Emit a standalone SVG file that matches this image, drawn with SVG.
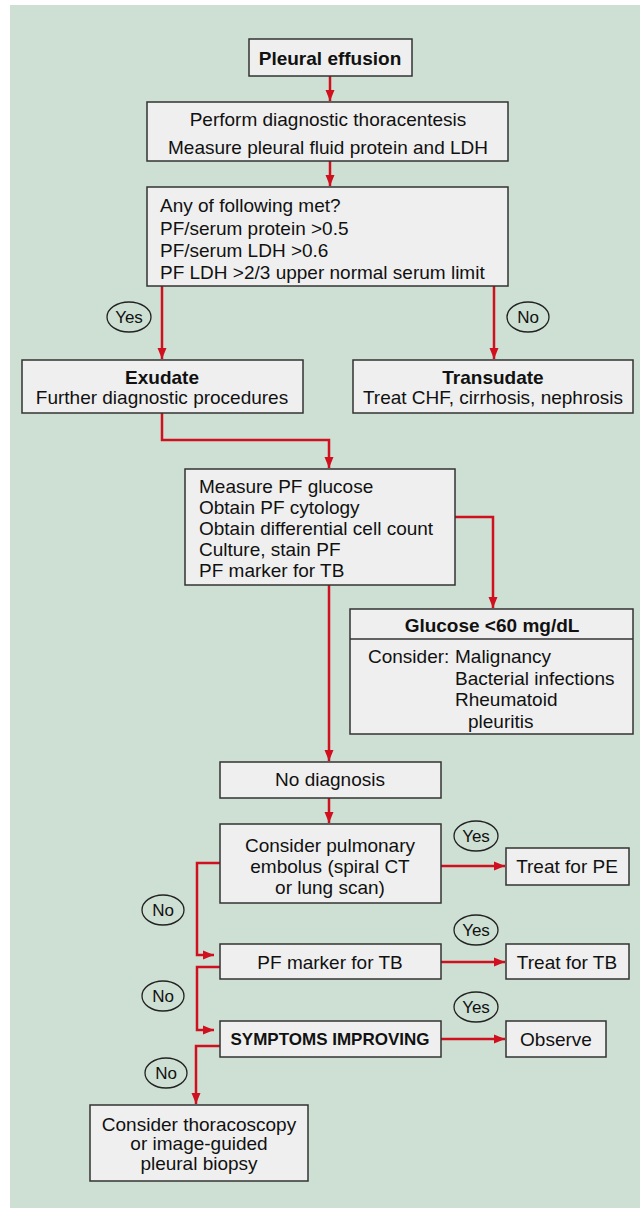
<svg xmlns="http://www.w3.org/2000/svg" width="640" height="1209" viewBox="0 0 640 1209">
<defs>
<style>
.box{fill:#efefef;stroke:#333;stroke-width:1.5}
.t{font-family:"Liberation Sans",Arial,sans-serif;font-size:19px;fill:#111}
.c{text-anchor:middle}
.b{font-weight:bold}
.con{fill:none;stroke:#d0101e;stroke-width:2.5}
.oval{fill:#cde0d3;stroke:#222;stroke-width:1.3}
.ol{font-family:"Liberation Sans",Arial,sans-serif;font-size:17px;text-anchor:middle;fill:#111}
</style>
<marker id="ah" markerUnits="userSpaceOnUse" markerWidth="12" markerHeight="10" refX="11" refY="5" orient="auto">
<path d="M0,0.5 L11,5 L0,9.5 z" fill="#d0101e"/>
</marker>
</defs>
<rect x="0" y="0" width="640" height="1209" fill="#ffffff"/>
<rect x="10" y="5" width="630" height="1203" fill="#cde0d3"/>

<g id="connectors">
<path class="con" d="M330,76 V101" marker-end="url(#ah)"/>
<path class="con" d="M330,161 V186" marker-end="url(#ah)"/>
<path class="con" d="M162,286 V359" marker-end="url(#ah)"/>
<path class="con" d="M494,286 V359" marker-end="url(#ah)"/>
<path class="con" d="M162,413 V440 H329 V468" marker-end="url(#ah)"/>
<path class="con" d="M455,517 H493 V608" marker-end="url(#ah)"/>
<path class="con" d="M329,585 V761" marker-end="url(#ah)"/>
<path class="con" d="M329,798 V823" marker-end="url(#ah)"/>
<path class="con" d="M441,866 H505" marker-end="url(#ah)"/>
<path class="con" d="M220,863 H197 V955 H214" marker-end="url(#ah)"/>
<path class="con" d="M441,962 H505" marker-end="url(#ah)"/>
<path class="con" d="M220,967 H197 V1030 H214" marker-end="url(#ah)"/>
<path class="con" d="M441,1039 H505" marker-end="url(#ah)"/>
<path class="con" d="M220,1046 H196 V1104" marker-end="url(#ah)"/>
</g>

<g id="labels">
<ellipse class="oval" cx="129" cy="317" rx="22" ry="15"/><text class="ol" x="129" y="323">Yes</text>
<ellipse class="oval" cx="528" cy="317" rx="21" ry="15"/><text class="ol" x="528" y="323">No</text>
<ellipse class="oval" cx="476" cy="836" rx="22" ry="15"/><text class="ol" x="476" y="842">Yes</text>
<ellipse class="oval" cx="163" cy="910" rx="21" ry="15"/><text class="ol" x="163" y="916">No</text>
<ellipse class="oval" cx="476" cy="930" rx="22" ry="15"/><text class="ol" x="476" y="936">Yes</text>
<ellipse class="oval" cx="163" cy="996" rx="21" ry="15"/><text class="ol" x="163" y="1002">No</text>
<ellipse class="oval" cx="476" cy="1007" rx="22" ry="15"/><text class="ol" x="476" y="1013">Yes</text>
<ellipse class="oval" cx="166" cy="1073" rx="21" ry="15"/><text class="ol" x="166" y="1079">No</text>
</g>

<g id="n-pleural">
<rect class="box" x="249" y="39" width="163" height="37"/>
<text class="t c b" x="330" y="65">Pleural effusion</text>
</g>

<g id="n-thoracentesis">
<rect class="box" x="147" y="102" width="361" height="59"/>
<text class="t c" x="328" y="126">Perform diagnostic thoracentesis</text>
<text class="t c" x="328" y="154">Measure pleural fluid protein and LDH</text>
</g>

<g id="n-criteria">
<rect class="box" x="147" y="187" width="361" height="99"/>
<text class="t" x="160" y="212">Any of following met?</text>
<text class="t" x="160" y="235">PF/serum protein &gt;0.5</text>
<text class="t" x="160" y="257">PF/serum LDH &gt;0.6</text>
<text class="t" x="160" y="279">PF LDH &gt;2/3 upper normal serum limit</text>
</g>

<g id="n-exudate">
<rect class="box" x="22" y="360" width="281" height="53"/>
<text class="t c b" x="162" y="384">Exudate</text>
<text class="t c" x="162" y="404">Further diagnostic procedures</text>
</g>

<g id="n-transudate">
<rect class="box" x="353" y="360" width="280" height="53"/>
<text class="t c b" x="493" y="384">Transudate</text>
<text class="t c" x="493" y="404">Treat CHF, cirrhosis, nephrosis</text>
</g>

<g id="n-measure">
<rect class="box" x="185" y="469" width="270" height="116"/>
<text class="t" x="199" y="493">Measure PF glucose</text>
<text class="t" x="199" y="514">Obtain PF cytology</text>
<text class="t" x="199" y="535">Obtain differential cell count</text>
<text class="t" x="199" y="556">Culture, stain PF</text>
<text class="t" x="199" y="577">PF marker for TB</text>
</g>

<g id="n-glucose">
<rect class="box" x="350" y="609" width="283" height="125"/>
<line x1="350" y1="639" x2="633" y2="639" stroke="#333" stroke-width="1.5"/>
<text class="t c b" x="492" y="632">Glucose &lt;60 mg/dL</text>
<text class="t" x="368" y="663">Consider:</text>
<text class="t" x="455" y="663">Malignancy</text>
<text class="t" x="455" y="685">Bacterial infections</text>
<text class="t" x="455" y="706">Rheumatoid</text>
<text class="t" x="468" y="728">pleuritis</text>
</g>

<g id="n-nodiag">
<rect class="box" x="220" y="762" width="221" height="36"/>
<text class="t c" x="330" y="786">No diagnosis</text>
</g>

<g id="n-pe">
<rect class="box" x="220" y="824" width="221" height="79"/>
<text class="t c" x="330" y="852">Consider pulmonary</text>
<text class="t c" x="330" y="873">embolus (spiral CT</text>
<text class="t c" x="330" y="894">or lung scan)</text>
</g>

<g id="n-treatpe">
<rect class="box" x="506" y="848" width="123" height="37"/>
<text class="t c" x="567" y="873">Treat for PE</text>
</g>

<g id="n-tbmarker">
<rect class="box" x="220" y="944" width="221" height="35"/>
<text class="t c" x="330" y="969">PF marker for TB</text>
</g>

<g id="n-treattb">
<rect class="box" x="506" y="944" width="123" height="35"/>
<text class="t c" x="567" y="969">Treat for TB</text>
</g>

<g id="n-symptoms">
<rect class="box" x="220" y="1021" width="221" height="36"/>
<text class="t c b" x="330" y="1045" style="font-size:17px">SYMPTOMS IMPROVING</text>
</g>

<g id="n-observe">
<rect class="box" x="506" y="1021" width="100" height="36"/>
<text class="t c" x="556" y="1046">Observe</text>
</g>

<g id="n-biopsy">
<rect class="box" x="90" y="1105" width="218" height="76"/>
<text class="t c" x="199" y="1131">Consider thoracoscopy</text>
<text class="t c" x="199" y="1150">or image-guided</text>
<text class="t c" x="199" y="1170">pleural biopsy</text>
</g>
</svg>
